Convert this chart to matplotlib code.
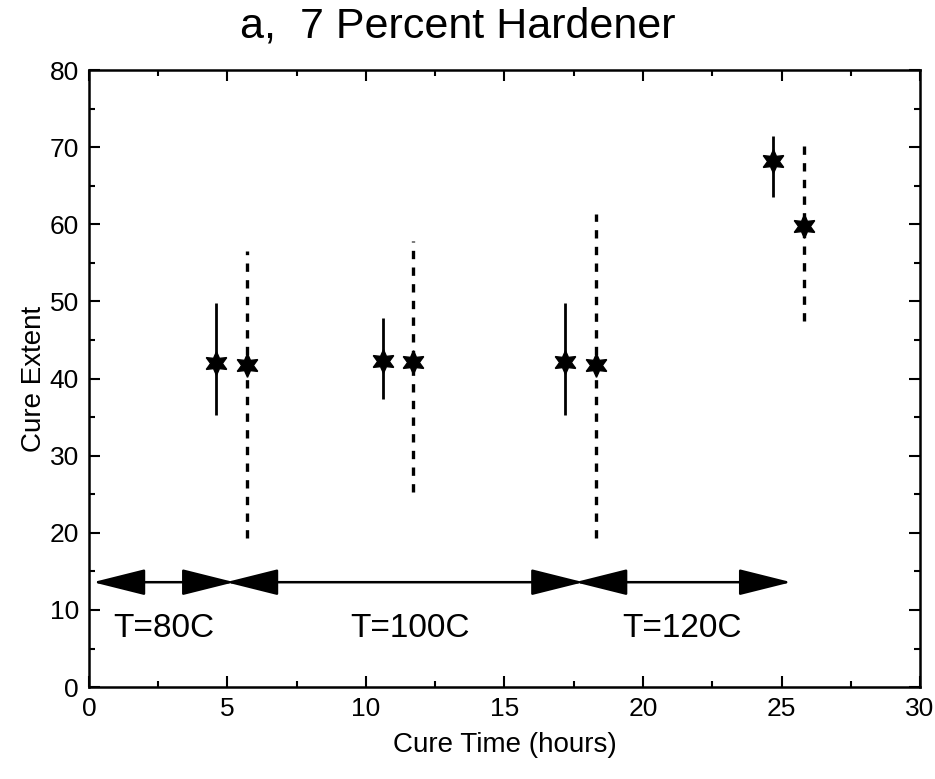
import numpy as np
import matplotlib
matplotlib.use('Agg')
import matplotlib.pyplot as plt
from matplotlib.patches import FancyArrowPatch
from matplotlib.ticker import MultipleLocator

plt.rcParams['font.family'] = ['Liberation Sans', 'DejaVu Sans']

# solid error bars (first of each pair)
solid_x = [4.6, 10.6, 17.2, 24.7]
solid_y = [42.0, 42.3, 42.2, 68.2]
solid_lo = [35.3, 37.3, 35.3, 63.5]
solid_hi = [49.8, 47.8, 49.8, 71.5]

# dashed error bars (second of each pair)
dash_x = [5.7, 11.7, 18.3, 25.8]
dash_y = [41.7, 42.2, 41.7, 59.8]
dash_lo = [19.3, 25.3, 19.3, 47.5]
dash_hi = [56.5, 57.8, 61.3, 71.2]

# temperature ranges (double arrows)
arrow_y = 13.6
arrow_spans = [(0.3, 5.1), (5.1, 17.7), (17.7, 25.2)]
temp_labels = ['T=80C', 'T=100C', 'T=120C']
temp_label_x = [2.7, 11.6, 21.4]
temp_label_y = 7.6

fig = plt.figure(figsize=(9.35, 7.79), dpi=100)
ax = fig.add_axes([0.095, 0.118, 0.889, 0.792])

ax.vlines(solid_x, solid_lo, solid_hi, colors='black', linewidth=2.0)
ax.vlines(dash_x, dash_lo, dash_hi, colors='black', linewidth=2.4,
          linestyles=(0, (2.5, 2.5)))
star = (6, 1, 0)
ax.plot(solid_x, solid_y, linestyle='none', marker=star, markersize=17,
        color='black')
ax.plot(dash_x, dash_y, linestyle='none', marker=star, markersize=17,
        color='black')

# heads get pulled in a little by the line width, so push the ends out
ext = 0.15
for a, b in arrow_spans:
    arr = FancyArrowPatch((a - ext, arrow_y), (b + ext, arrow_y),
                          arrowstyle='<|-|>,head_length=2.2,head_width=0.55',
                          mutation_scale=15, color='black', linewidth=1.8,
                          shrinkA=0, shrinkB=0)
    ax.add_patch(arr)

for lab, tx in zip(temp_labels, temp_label_x):
    ax.text(tx, temp_label_y, lab, ha='center', va='center', fontsize=24)

ax.set_xlim(0, 30)
ax.set_ylim(0, 80)
ax.xaxis.set_major_locator(MultipleLocator(5))
ax.xaxis.set_minor_locator(MultipleLocator(2.5))
ax.yaxis.set_major_locator(MultipleLocator(10))
ax.yaxis.set_minor_locator(MultipleLocator(5))
ax.tick_params(which='both', direction='in', top=True, right=True,
               width=1.5, labelsize=19)
ax.tick_params(which='major', length=8, pad=7)
ax.tick_params(which='minor', length=4)
for s in ax.spines.values():
    s.set_linewidth(1.8)

ax.set_xlabel('Cure Time (hours)', fontsize=20, labelpad=8)
ax.set_ylabel('Cure Extent', fontsize=20, labelpad=2)
fig.text(0.49, 0.9525, 'a,  7 Percent Hardener', fontsize=31,
         ha='center', va='baseline')

fig.savefig('out.png', dpi=100)
